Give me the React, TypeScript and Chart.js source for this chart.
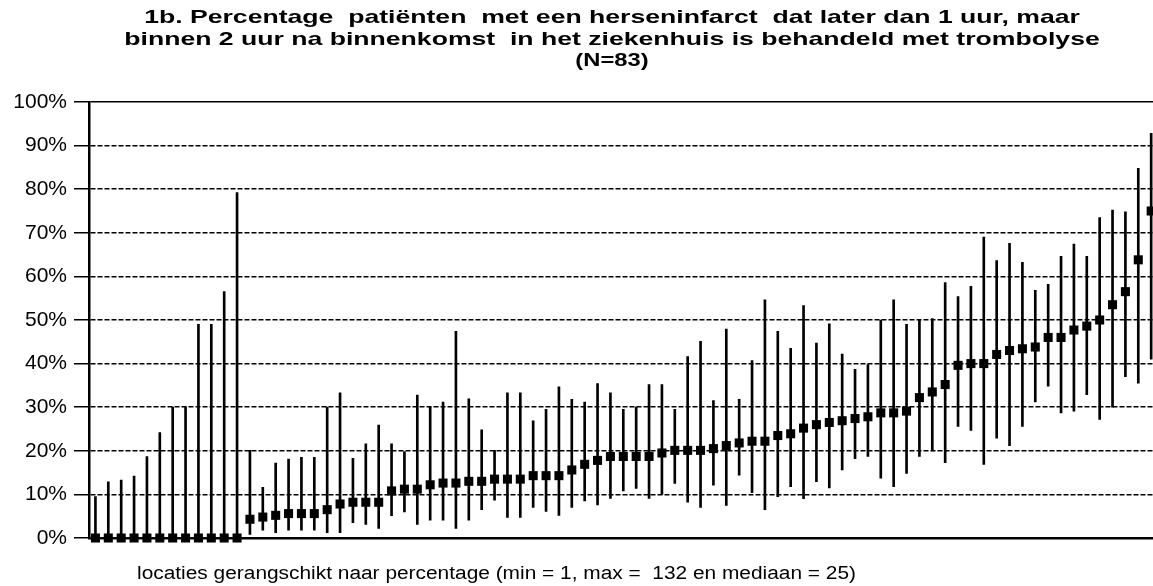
import { useEffect, useRef } from "react";
import { Chart, registerables } from "chart.js";

Chart.register(...registerables);

const TITLE_LINES = [
  "1b. Percentage  patiënten  met een herseninfarct  dat later dan 1 uur, maar",
  "binnen 2 uur na binnenkomst  in het ziekenhuis is behandeld met trombolyse",
  "(N=83)",
];
const X_TITLE = "locaties gerangschikt naar percentage (min = 1, max =  132 en mediaan = 25)";

const locations = [
  "1", "2", "3", "4", "5", "6", "7", "8", "9", "10",
  "11", "12", "13", "14", "15", "16", "17", "18", "19", "20",
  "21", "22", "23", "24", "25", "26", "27", "28", "29", "30",
  "31", "32", "33", "34", "35", "36", "37", "38", "39", "40",
  "41", "42", "43", "44", "45", "46", "47", "48", "49", "50",
  "51", "52", "53", "54", "55", "56", "57", "58", "59", "60",
  "61", "62", "63", "64", "65", "66", "67", "68", "69", "70",
  "71", "72", "73", "74", "75", "76", "77", "78", "79", "80",
  "81", "82", "83",
];

const percentage = [
  0, 0, 0, 0, 0, 0, 0, 0, 0, 0,
  0, 0, 4.3, 4.8, 5.2, 5.6, 5.6, 5.6, 6.5, 7.8,
  8.2, 8.2, 8.2, 10.8, 11.2, 11.2, 12.2, 12.6, 12.6, 13.0,
  13.0, 13.5, 13.5, 13.5, 14.3, 14.3, 14.3, 15.6, 16.9, 17.8,
  18.7, 18.7, 18.7, 18.7, 19.5, 20.1, 20.1, 20.1, 20.5, 21.2,
  21.8, 22.2, 22.2, 23.5, 23.9, 25.2, 26.0, 26.5, 26.9, 27.4,
  27.8, 28.7, 28.7, 29.1, 32.2, 33.5, 35.2, 39.6, 40.0, 40.0,
  42.1, 43.0, 43.4, 43.8, 46.0, 46.0, 47.7, 48.6, 50.0, 53.5,
  56.5, 63.8, 75.0,
];

const ciLower = [
  0, 0, 0, 0, 0, 0, 0, 0, 0, 0,
  0, 0, 0.8, 1.8, 1.2, 1.8, 1.8, 1.8, 1.2, 1.2,
  3.5, 3.1, 2.2, 5.1, 6.0, 3.1, 4.1, 4.1, 2.2, 4.1,
  6.5, 8.7, 4.7, 4.7, 7.0, 6.1, 5.2, 7.0, 8.5, 7.6,
  9.1, 10.8, 11.4, 9.1, 10.0, 12.5, 8.2, 7.0, 12.1, 7.5,
  14.4, 10.4, 6.5, 9.5, 11.8, 9.0, 12.9, 11.5, 15.6, 18.2,
  18.7, 13.7, 11.8, 14.8, 18.7, 20.0, 17.3, 25.6, 24.7, 16.9,
  22.9, 21.2, 25.6, 31.2, 34.8, 28.7, 29.1, 32.9, 27.2, 30.0,
  37.0, 35.5, 41.0,
];

const ciUpper = [
  9.5, 12.9, 13.3, 14.2, 18.7, 24.2, 30.0, 30.0, 49.0, 49.0,
  56.5, 79.2, 20.1, 11.6, 17.2, 18.1, 18.5, 18.5, 30.0, 33.3,
  18.3, 21.6, 25.9, 21.6, 19.8, 32.8, 30.0, 31.2, 47.4, 31.9,
  24.8, 20.1, 33.3, 33.3, 26.9, 29.5, 34.7, 31.8, 31.2, 35.4,
  33.3, 29.5, 30.0, 35.2, 35.2, 29.5, 41.6, 45.1, 31.5, 47.9,
  31.8, 40.7, 54.6, 47.4, 43.5, 53.3, 44.7, 49.1, 42.2, 38.7,
  39.8, 50.0, 54.6, 49.0, 50.0, 50.3, 58.6, 55.4, 57.7, 69.0,
  63.6, 67.6, 63.2, 56.8, 58.2, 64.6, 67.4, 64.6, 73.5, 75.2,
  74.8, 84.8, 92.8,
];

const FONT = '"Liberation Sans", Arial, sans-serif';

const titlePlugin = {
  id: "stretchedTitle",
  afterDraw(chart: any) {
    const { ctx } = chart;
    ctx.save();
    ctx.font = `bold 19px ${FONT}`;
    ctx.fillStyle = "#000";
    ctx.textAlign = "center";
    ctx.textBaseline = "middle";
    TITLE_LINES.forEach((line, i) => {
      ctx.save();
      ctx.translate(612, 18 + i * 21.5);
      ctx.scale(i === 2 ? 1.25 : 1.4, 1);
      ctx.fillText(line, 0, 0);
      ctx.restore();
    });
    ctx.restore();
  },
};

const xTitlePlugin = {
  id: "xTitleLeft",
  afterDraw(chart: any) {
    const { ctx, chartArea } = chart;
    ctx.save();
    ctx.font = `18px ${FONT}`;
    ctx.fillStyle = "#000";
    ctx.textAlign = "left";
    ctx.textBaseline = "middle";
    ctx.translate(chartArea.left + 48, chartArea.bottom + 36);
    ctx.scale(1.16, 1);
    ctx.fillText(X_TITLE, 0, 0);
    ctx.restore();
  },
};

export default function App() {
  const ref = useRef<HTMLCanvasElement | null>(null);

  useEffect(() => {
    document.body.style.margin = "0";
    document.body.style.overflow = "hidden";
    if (!ref.current) return;
    const chart = new Chart(ref.current, {
      type: "bar",
      data: {
        labels: locations,
        datasets: [
          {
            type: "line",
            data: percentage,
            showLine: false,
            pointStyle: "rect",
            pointRadius: 6.4,
            pointHoverRadius: 6.4,
            pointBackgroundColor: "#000",
            pointBorderWidth: 0,
            borderColor: "#000",
            clip: false,
            order: 0,
          } as any,
          {
            type: "bar",
            data: ciLower.map((lo, i) => [lo, ciUpper[i]]),
            backgroundColor: "#000",
            borderWidth: 0,
            barThickness: 2,
            grouped: false,
            order: 1,
          } as any,
        ],
      },
      options: {
        responsive: false,
        animation: false,
        layout: { padding: { left: 0, right: 0, top: 102, bottom: 40 } },
        plugins: {
          legend: { display: false },
          tooltip: { enabled: false },
          title: { display: false },
        },
        scales: {
          x: {
            type: "category",
            offset: true,
            grid: { display: false },
            ticks: { display: false },
            border: { display: true, color: "#000", width: 2.5 },
          },
          y: {
            type: "linear",
            min: 0,
            max: 100,
            afterFit(scale: any) {
              scale.width = 89;
            },
            ticks: {
              stepSize: 10,
              padding: 7,
              color: "#000",
              font: { family: FONT, size: 21 },
              callback: (v: any) => `${v}%`,
            },
            grid: {
              color: "#000",
              lineWidth: 1.5,
              tickLength: 15,
              drawTicks: true,
            },
            border: {
              display: true,
              color: "#000",
              width: 2.5,
              dash: (ctx: any) => (ctx && ctx.tick && ctx.tick.value === 100 ? [] : [5, 2]),
            } as any,
          },
        },
      } as any,
      plugins: [titlePlugin, xTitlePlugin],
    });
    return () => chart.destroy();
  }, []);

  return (
    <div style={{ width: 1153, height: 586, overflow: "hidden" }}>
      <canvas ref={ref} width={1164} height={586} style={{ display: "block" }} />
    </div>
  );
}
